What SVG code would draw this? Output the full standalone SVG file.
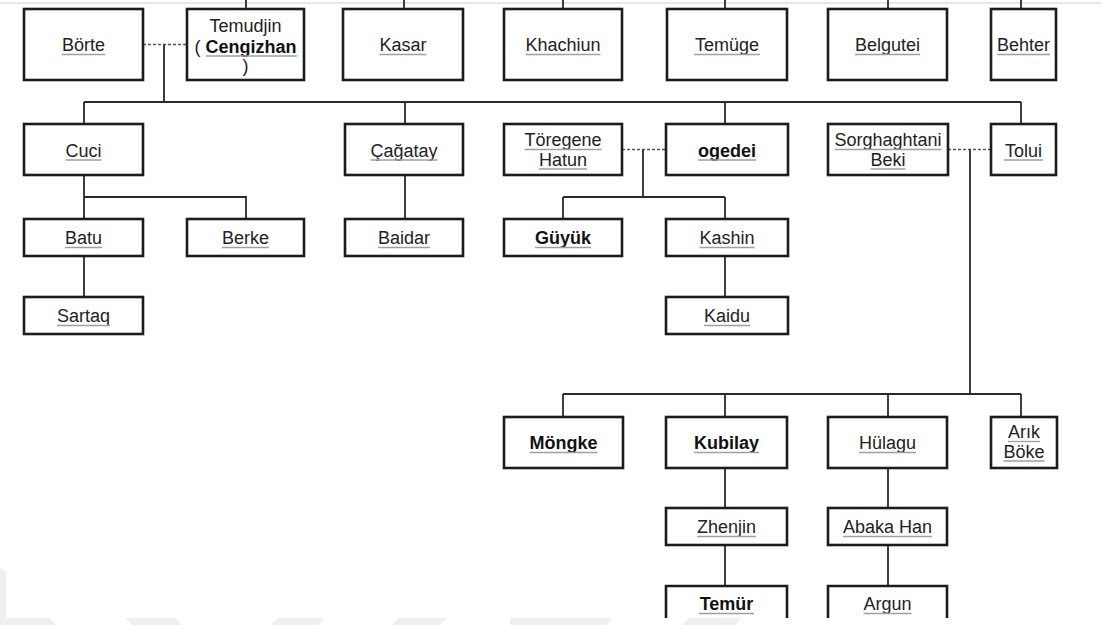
<svg xmlns="http://www.w3.org/2000/svg" width="1114" height="625" viewBox="0 0 1114 625">
<style>
.box{fill:#fff;stroke:#1c1c1c;stroke-width:2.6}
.ln{fill:none;stroke:#2a2a2a;stroke-width:1.8}
.dash{fill:none;stroke:#555;stroke-width:1.6;stroke-dasharray:3 2}
.t{font-family:"Liberation Sans",Arial,sans-serif;font-size:18px;fill:#222;text-anchor:middle}
.b{font-weight:bold;fill:#111}
.u{stroke:#9aa0a8;stroke-width:1.3}
.wm{fill:#efefef}
</style>
<rect x="0" y="0" width="1114" height="625" fill="#fff"/>
<g id="watermark">
<polygon class="wm" points="0,568 6,572 6,618 50,618 56,625 0,625"/>
<polygon class="wm" points="125,618 175,618 182,625 133,625"/>
<polygon class="wm" points="278,618 325,618 318,625 270,625"/>
<polygon class="wm" points="398,618 447,618 440,625 392,625"/>
<polygon class="wm" points="510,618 613,618 606,625 510,625"/>
<polygon class="wm" points="690,618 742,618 735,625 682,625"/>
</g>
<line x1="0" y1="3" x2="1101" y2="3" stroke="#cfcfcf" stroke-width="1.2"/>
<g id="connectors">
<path class="ln" d="M246,0V9M404,0V9M563,0V9M725,0V9M888,0V9M1021,0V9"/>
<path class="dash" d="M143,44.5H187"/>
<path class="ln" d="M164,44.5V102M84,102H1021M84,102V124M405,102V124M725,102V124M1021,102V124"/>
<path class="ln" d="M84,175V219M84,197H246V219M405,175V219"/>
<path class="dash" d="M622,149.5H666"/>
<path class="ln" d="M643,149.5V197M563,197H725M563,197V219M725,197V219"/>
<path class="ln" d="M84,256V297M725,256V297"/>
<path class="dash" d="M948,149.5H991"/>
<path class="ln" d="M970,149.5V394M563,394H1021M563,394V417M725,394V417M888,394V417M1021,394V417"/>
<path class="ln" d="M725,468V508M725,545V586M888,468V508M888,545V586"/>
</g>
<g id="borte"><rect class="box" x="24" y="9" width="119" height="71"/><text class="t" x="83.5" y="51">Börte</text><line class="u" x1="62" y1="54.5" x2="105" y2="54.5"/></g>
<g id="temudjin"><rect class="box" x="187" y="9" width="117" height="71"/><text class="t" x="245.5" y="32">Temudjin</text><text class="t" x="245.5" y="52.5">( <tspan class="b">Cengizhan</tspan></text><line class="u" x1="206" y1="56" x2="297" y2="56"/><text class="t" x="245.5" y="72">)</text></g>
<g id="kasar"><rect class="box" x="343" y="9" width="120" height="71"/><text class="t" x="403" y="51">Kasar</text><line class="u" x1="379.5" y1="54.5" x2="426.5" y2="54.5"/></g>
<g id="khachiun"><rect class="box" x="504" y="9" width="118" height="71"/><text class="t" x="563" y="51">Khachiun</text><line class="u" x1="525.5" y1="54.5" x2="600.5" y2="54.5"/></g>
<g id="temuge"><rect class="box" x="667" y="9" width="120" height="71"/><text class="t" x="727" y="51">Temüge</text><line class="u" x1="694" y1="54.5" x2="760" y2="54.5"/></g>
<g id="belgutei"><rect class="box" x="828" y="9" width="119" height="71"/><text class="t" x="887.5" y="51">Belgutei</text><line class="u" x1="855" y1="54.5" x2="920" y2="54.5"/></g>
<g id="behter"><rect class="box" x="991" y="9" width="65" height="71"/><text class="t" x="1023.5" y="51">Behter</text><line class="u" x1="997" y1="54.5" x2="1050" y2="54.5"/></g>
<g id="cuci"><rect class="box" x="24" y="124" width="119" height="51"/><text class="t" x="83.5" y="156.5">Cuci</text><line class="u" x1="65.5" y1="160" x2="101.5" y2="160"/></g>
<g id="cagatay"><rect class="box" x="345" y="124" width="118" height="51"/><text class="t" x="404" y="156.5">Çağatay</text><line class="u" x1="370.5" y1="160" x2="437.5" y2="160"/></g>
<g id="toregene"><rect class="box" x="504" y="124" width="118" height="51"/><text class="t" x="563" y="146">Töregene</text><line class="u" x1="524.5" y1="149.5" x2="601.5" y2="149.5"/><text class="t" x="563" y="165.5">Hatun</text><line class="u" x1="539" y1="169" x2="587" y2="169"/></g>
<g id="ogedei"><rect class="box" x="666" y="124" width="122" height="51"/><text class="t b" x="727" y="156.5">ogedei</text><line class="u" x1="698" y1="160" x2="756" y2="160"/></g>
<g id="sorghaghtani"><rect class="box" x="828" y="124" width="120" height="51"/><text class="t" x="888" y="146">Sorghaghtani</text><line class="u" x1="834.5" y1="149.5" x2="941.5" y2="149.5"/><text class="t" x="888" y="165.5">Beki</text><line class="u" x1="870.5" y1="169" x2="905.5" y2="169"/></g>
<g id="tolui"><rect class="box" x="991" y="124" width="65" height="51"/><text class="t" x="1023.5" y="156.5">Tolui</text><line class="u" x1="1004" y1="160" x2="1043" y2="160"/></g>
<g id="batu"><rect class="box" x="24" y="219" width="119" height="37"/><text class="t" x="83.5" y="244">Batu</text><line class="u" x1="65" y1="247.5" x2="102" y2="247.5"/></g>
<g id="berke"><rect class="box" x="187" y="219" width="117" height="37"/><text class="t" x="245.5" y="244">Berke</text><line class="u" x1="222" y1="247.5" x2="269" y2="247.5"/></g>
<g id="baidar"><rect class="box" x="345" y="219" width="118" height="37"/><text class="t" x="404" y="244">Baidar</text><line class="u" x1="378" y1="247.5" x2="430" y2="247.5"/></g>
<g id="guyuk"><rect class="box" x="504" y="219" width="118" height="37"/><text class="t b" x="563" y="244">Güyük</text><line class="u" x1="535" y1="247.5" x2="591" y2="247.5"/></g>
<g id="kashin"><rect class="box" x="666" y="219" width="122" height="37"/><text class="t" x="727" y="244">Kashin</text><line class="u" x1="699.5" y1="247.5" x2="754.5" y2="247.5"/></g>
<g id="sartaq"><rect class="box" x="24" y="297" width="119" height="37"/><text class="t" x="83.5" y="322">Sartaq</text><line class="u" x1="57" y1="325.5" x2="110" y2="325.5"/></g>
<g id="kaidu"><rect class="box" x="666" y="297" width="122" height="37"/><text class="t" x="727" y="322">Kaidu</text><line class="u" x1="704" y1="325.5" x2="750" y2="325.5"/></g>
<g id="mongke"><rect class="box" x="504" y="417" width="119" height="51"/><text class="t b" x="563.5" y="449">Möngke</text><line class="u" x1="529.5" y1="452.5" x2="597.5" y2="452.5"/></g>
<g id="kubilay"><rect class="box" x="666" y="417" width="121" height="51"/><text class="t b" x="726.5" y="449">Kubilay</text><line class="u" x1="694" y1="452.5" x2="759" y2="452.5"/></g>
<g id="hulagu"><rect class="box" x="828" y="417" width="119" height="51"/><text class="t" x="887.5" y="449">Hülagu</text><line class="u" x1="859" y1="452.5" x2="916" y2="452.5"/></g>
<g id="arikboke"><rect class="box" x="991" y="417" width="66" height="51"/><text class="t" x="1024" y="438">Arık</text><line class="u" x1="1008" y1="441.5" x2="1040" y2="441.5"/><text class="t" x="1024" y="457.5">Böke</text><line class="u" x1="1003.5" y1="461" x2="1044.5" y2="461"/></g>
<g id="zhenjin"><rect class="box" x="666" y="508" width="121" height="37"/><text class="t" x="726.5" y="533">Zhenjin</text><line class="u" x1="697" y1="536.5" x2="756" y2="536.5"/></g>
<g id="abaka"><rect class="box" x="828" y="508" width="119" height="37"/><text class="t" x="887.5" y="533">Abaka Han</text><line class="u" x1="843" y1="536.5" x2="932" y2="536.5"/></g>
<g id="temur"><path class="box" d="M666,618V586H787V618"/><text class="t b" x="726.5" y="610">Temür</text><line class="u" x1="699" y1="613.5" x2="754" y2="613.5"/></g>
<g id="argun"><path class="box" d="M828,618V586H947V618"/><text class="t" x="887.5" y="610">Argun</text><line class="u" x1="863.5" y1="613.5" x2="911.5" y2="613.5"/></g>
</svg>
